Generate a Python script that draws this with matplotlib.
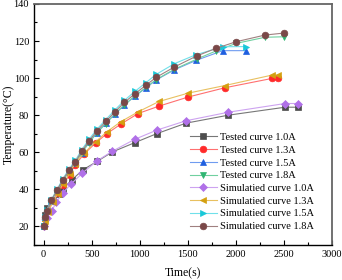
import matplotlib as mpl
import matplotlib.pyplot as plt
from matplotlib.ticker import MultipleLocator

mpl.rcParams['font.family'] = ['Liberation Serif', 'DejaVu Serif']
mpl.rcParams['mathtext.fontset'] = 'stix'

# tested / simulated curves, time in s, temperature in degC
t_10 = [0, 17, 40, 97, 160, 201, 295, 410, 560, 715, 948, 1174, 1480, 1920, 2510, 2646]
tested_10 = [20, 26, 30, 34, 37.5, 40.4, 45.2, 50.6, 55.2, 60.2, 65.2, 70, 75.7, 80, 84.3, 84.3]
t_10s = [0, 30, 87, 132, 201, 288, 403, 559, 715, 948, 1174, 1480, 1920, 2510, 2646]
sim_10 = [20, 24.5, 28.6, 33.1, 38.2, 43, 48.8, 55.5, 60.6, 67, 71.9, 77, 81.6, 86.3, 86.3]

t_13 = [0, 17, 45, 97, 149, 201, 271, 323, 420, 540, 656, 800, 982, 1200, 1503, 1885, 2372, 2441]
tested_13 = [20, 24, 28.5, 33.5, 38, 42.5, 48, 53, 59, 65, 70, 75.1, 80.9, 84.9, 89.8, 94.8, 99.8, 99.8]
sim_13 = [20, 23.2, 27.7, 33.1, 37.7, 43, 48.5, 53.9, 59.6, 65.6, 71, 76.4, 81.8, 87.4, 91.9, 96, 101.6, 101.6]

t_15 = [0, 17, 35, 80, 142, 201, 264, 330, 395, 472, 552, 646, 740, 840, 948, 1065, 1170, 1360, 1583, 1861, 2104]
tested_15 = [20, 25, 28.4, 33.8, 39.5, 44.8, 49.8, 54.3, 59.8, 65.3, 70.5, 75.6, 80.6, 85.6, 90.2, 94.8, 99, 104.5, 109.5, 114.8, 114.8]
sim_15 = [20, 25.3, 29, 34.5, 40.2, 45.8, 50.9, 55.6, 61.3, 67, 72.3, 77.6, 82.8, 88, 92.8, 97.6, 102, 107.8, 112.6, 116.9, 117]

t_18 = [0, 17, 35, 80, 142, 201, 264, 330, 395, 472, 552, 646, 740, 840, 948, 1065, 1170, 1360, 1590, 1790, 2000, 2300, 2500]
tested_18 = [20, 24.8, 28.3, 33.7, 39.3, 44.6, 49.6, 54.1, 59.6, 65.1, 70.3, 75.5, 80.6, 85.6, 90.3, 95, 99.2, 104.8, 110.2, 114.6, 118.7, 122, 122.3]
sim_18 = [20, 25, 28.6, 34.1, 39.8, 45.2, 50.3, 54.8, 60.5, 66.1, 71.4, 76.6, 81.8, 86.9, 91.5, 96.2, 100.4, 106, 111.9, 116, 119.6, 123.2, 124.3]

series = [
    (t_10, tested_10, 'Tested curve 1.0A', 's', '#4d4d4d', '#777777'),
    (t_13, tested_13, 'Tested curve 1.3A', 'o', '#ff2a2a', '#ff7070'),
    (t_15, tested_15, 'Tested curve 1.5A', '^', '#1f5fe0', '#6f9cf0'),
    (t_18, tested_18, 'Tested curve 1.8A', 'v', '#2fb572', '#70d0a0'),
    (t_10s, sim_10, 'Simulatied curve 1.0A', 'D', '#b070e8', '#cda3f0'),
    (t_13, sim_13, 'Simulatied curve 1.3A', '<', '#d4a010', '#e8c060'),
    (t_15, sim_15, 'Simulatied curve 1.5A', '>', '#18c8d8', '#70e0ea'),
    (t_18, sim_18, 'Simulatied curve 1.8A', 'o', '#7a4848', '#a08080'),
]

fig = plt.figure(figsize=(3.42, 2.8), dpi=100)
ax = fig.add_axes([0.0994, 0.125, 0.872, 0.861])

for x, y, label, mk, mc, lc in series:
    ms = 4.0 if mk == 'D' else 4.8
    ax.plot(x, y, color=lc, lw=0.8, marker=mk, ms=ms,
            markerfacecolor=mc, markeredgecolor=mc, markeredgewidth=0.5, label=label)

ax.set_xlim(-100, 3000)
ax.set_ylim(10, 140)
ax.xaxis.set_major_locator(MultipleLocator(500))
ax.xaxis.set_minor_locator(MultipleLocator(250))
ax.yaxis.set_major_locator(MultipleLocator(20))
ax.yaxis.set_minor_locator(MultipleLocator(10))
ax.tick_params(which='both', direction='in', top=False, right=False, labelsize=7.5, width=0.8)
ax.tick_params(which='major', length=3.5)
ax.tick_params(which='minor', length=2)

for s in ['left', 'bottom']:
    ax.spines[s].set_linewidth(1.0)
    ax.spines[s].set_color('black')
for s in ['top', 'right']:
    ax.spines[s].set_linewidth(1.3)
    ax.spines[s].set_color('#666666')

ax.set_xlabel('Time(s)', fontsize=8.5, labelpad=6)
ax.set_ylabel('Temperature(°C)', fontsize=8.5)
ax.yaxis.set_label_coords(-0.064, 0.5)

ax.legend(loc='lower right', bbox_to_anchor=(0.953, 0.04), frameon=False, fontsize=7.5,
          handlelength=2.6, handletextpad=0.3, labelspacing=0.33, borderaxespad=0.0)

plt.savefig('out.png', dpi=100)
plt.close()
